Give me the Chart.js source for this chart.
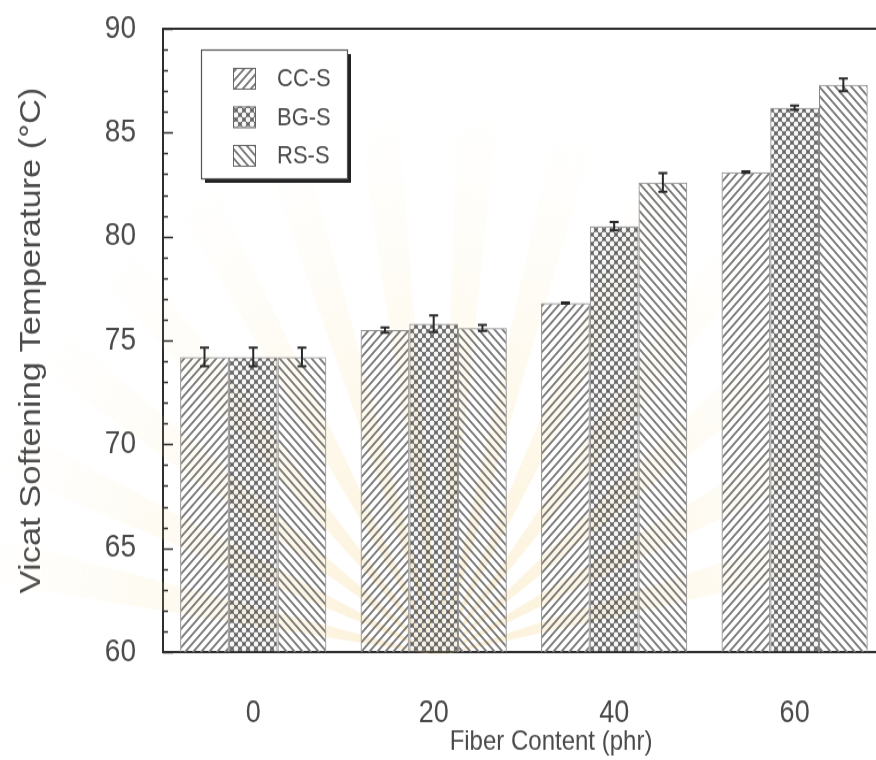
<!DOCTYPE html>
<html>
<head>
<meta charset="utf-8">
<script src="https://cdn.jsdelivr.net/npm/chart.js@4/dist/chart.umd.min.js"></script>
<style>
  html, body { margin: 0; padding: 0; background: #fff; overflow: hidden; width: 876px; height: 760px; }
  /* the figure is drawn slightly compressed and stretched back to full height */
  #stretch { width: 950px; height: 661px; transform: scaleY(1.15); transform-origin: 0 0; }
  #c { display: block; }
</style>
</head>
<body>
<div id="stretch"><canvas id="c" width="950" height="661"></canvas></div>
<script>
// Fiber loading levels (phr)
const fiberLevels = [0, 20, 40, 60];
const seriesNames = ['CC-S', 'BG-S', 'RS-S'];

// Vicat softening temperature (°C)
const ccsValues = [74.2, 75.5, 76.8, 83.1];
const bgsValues = [74.2, 75.8, 80.5, 86.2];
const rssValues = [74.2, 75.6, 82.6, 87.3];

// Standard deviations
const ccsErrors = [0.45, 0.12, 0.03, 0.03];
const bgsErrors = [0.45, 0.40, 0.20, 0.10];
const rssErrors = [0.45, 0.15, 0.45, 0.30];

// Axis ranges
const xMin = -10, xMax = 76;
const yMin = 60, yMax = 90, yStep = 5;

const FONT = '"Liberation Sans", Arial, Helvetica, sans-serif';
const TEXT = '#4a4a4a';
const AXIS = '#2e2e2e';

// Monochrome fill patterns (transparent background)
function makePattern(kind) {
  const s = 8;
  const tile = document.createElement('canvas');
  tile.width = tile.height = s;
  const g = tile.getContext('2d');
  if (kind === 'dots') {
    g.fillStyle = 'rgba(88,88,88,0.95)';
    g.fillRect(0, 0, s, s);
    g.globalCompositeOperation = 'destination-out';
    [[0, 0], [s, 0], [0, s], [s, s], [s / 2, s / 2]].forEach(([x, y]) => {
      g.beginPath(); g.arc(x, y, 2.4, 0, Math.PI * 2); g.fill();
    });
  } else {
    g.strokeStyle = '#767676';
    g.lineWidth = 1.8;
    g.beginPath();
    if (kind === 'fwd') {
      g.moveTo(-2, s + 2); g.lineTo(s + 2, -2);
      g.moveTo(-2, 2); g.lineTo(2, -2);
      g.moveTo(s - 2, s + 2); g.lineTo(s + 2, s - 2);
    } else {
      g.moveTo(-2, -2); g.lineTo(s + 2, s + 2);
      g.moveTo(-2, s - 2); g.lineTo(2, s + 2);
      g.moveTo(s - 2, -2); g.lineTo(s + 2, 2);
    }
    g.stroke();
  }
  return g.createPattern(tile, 'repeat');
}

const fills = [makePattern('fwd'), makePattern('dots'), makePattern('back')];
const values = [ccsValues, bgsValues, rssValues];
const errors = [ccsErrors, bgsErrors, rssErrors];

const datasets = seriesNames.map((name, i) => ({
  label: name,
  data: values[i].map((v, j) => ({ x: fiberLevels[j], y: v })),
  errors: errors[i],
  backgroundColor: fills[i],
  borderColor: '#8a8a8a',
  borderWidth: 1,
  borderSkipped: false,
  categoryPercentage: 0.81,
  barPercentage: 1.0
}));

// Faint sunburst emblem behind the plot
const backdrop = {
  id: 'backdrop',
  beforeDatasetsDraw(chart) {
    const { ctx } = chart;
    const cx = 440, cy = 570, r = 480;
    ctx.save();
    const grad = ctx.createRadialGradient(cx, cy, 20, cx, cy, r);
    grad.addColorStop(0, 'rgba(246,206,120,0.30)');
    grad.addColorStop(0.5, 'rgba(250,222,150,0.16)');
    grad.addColorStop(1, 'rgba(252,236,190,0)');
    ctx.fillStyle = grad;
    for (let a = -172; a <= -8; a += 12) {
      const a0 = a * Math.PI / 180, a1 = (a + 5) * Math.PI / 180;
      ctx.beginPath();
      ctx.moveTo(cx, cy);
      ctx.lineTo(cx + r * Math.cos(a0), cy + r * Math.sin(a0));
      ctx.lineTo(cx + r * Math.cos(a1), cy + r * Math.sin(a1));
      ctx.closePath();
      ctx.fill();
    }
    ctx.restore();
  }
};

// Error bars with caps
const errorBars = {
  id: 'errorBars',
  afterDatasetsDraw(chart) {
    const { ctx, scales: { y } } = chart;
    ctx.save();
    ctx.strokeStyle = '#2a2a2a';
    ctx.lineWidth = 2;
    chart.data.datasets.forEach((ds, i) => {
      chart.getDatasetMeta(i).data.forEach((bar, j) => {
        const v = ds.data[j].y, e = ds.errors[j];
        const top = y.getPixelForValue(v + e);
        const bot = y.getPixelForValue(v - e);
        const x = bar.x;
        ctx.beginPath();
        ctx.moveTo(x, top); ctx.lineTo(x, bot);
        ctx.moveTo(x - 4.5, top); ctx.lineTo(x + 4.5, top);
        ctx.moveTo(x - 4.5, bot); ctx.lineTo(x + 4.5, bot);
        ctx.stroke();
      });
    });
    ctx.restore();
  }
};

// Inward major/minor ticks on the value axis and the top frame line
const frame = {
  id: 'frame',
  afterDraw(chart) {
    const { ctx, chartArea: a, scales: { y } } = chart;
    ctx.save();
    ctx.strokeStyle = AXIS;
    ctx.lineWidth = 1.5;
    ctx.beginPath();
    for (let v = yMin; v <= yMax; v++) {
      const py = Math.round(y.getPixelForValue(v)) + 0.5;
      const len = v % yStep === 0 ? 10 : 5;
      ctx.moveTo(a.left, py); ctx.lineTo(a.left + len, py);
    }
    ctx.stroke();
    ctx.lineWidth = 2;
    ctx.beginPath();
    ctx.moveTo(a.left, a.top); ctx.lineTo(a.right, a.top);
    ctx.stroke();
    ctx.restore();
  }
};

// Boxed legend with drop shadow
const boxLegend = {
  id: 'boxLegend',
  afterDraw(chart) {
    const { ctx } = chart;
    const bx = 201, by = 43, bw = 146, bh = 112;
    ctx.save();
    ctx.fillStyle = '#222';
    ctx.fillRect(bx + 4, by + 4, bw, bh);
    ctx.fillStyle = '#fff';
    ctx.fillRect(bx, by, bw, bh);
    ctx.strokeStyle = '#555';
    ctx.lineWidth = 1.2;
    ctx.strokeRect(bx + 0.5, by + 0.5, bw, bh);
    ctx.font = '22px ' + FONT;
    ctx.textBaseline = 'middle';
    chart.data.datasets.forEach((ds, i) => {
      const cy = by + 25 + i * 33.5;
      ctx.fillStyle = ds.backgroundColor;
      ctx.fillRect(233, cy - 9, 22, 18);
      ctx.strokeStyle = '#666';
      ctx.lineWidth = 1;
      ctx.strokeRect(233.5, cy - 8.5, 22, 18);
      ctx.fillStyle = TEXT;
      ctx.fillText(ds.label, 277, cy + 1);
    });
    ctx.restore();
  }
};

new Chart(document.getElementById('c'), {
  type: 'bar',
  data: { datasets },
  plugins: [backdrop, errorBars, frame, boxLegend],
  options: {
    responsive: false,
    animation: false,
    layout: { padding: { left: 0, top: 25, right: 11, bottom: 0 } },
    plugins: { legend: { display: false }, tooltip: { enabled: false } },
    scales: {
      x: {
        type: 'linear',
        min: xMin, max: xMax,
        offset: false,
        grid: { display: false, drawTicks: false },
        border: { display: true, color: AXIS, width: 2 },
        ticks: { font: { family: FONT, size: 27 }, color: TEXT, padding: 37 },
        afterBuildTicks(s) { s.ticks = fiberLevels.map(v => ({ value: v })); },
        title: { display: true, text: 'Fiber Content (phr)', font: { family: FONT, size: 24 }, color: TEXT, padding: { top: 0, bottom: 1 } },
        afterFit(s) { s.height = 94; s.paddingLeft = 0; s.paddingRight = 0; }
      },
      y: {
        min: yMin, max: yMax,
        grid: { display: false, drawTicks: false },
        border: { display: true, color: AXIS, width: 2 },
        ticks: { stepSize: yStep, font: { family: FONT, size: 28 }, color: TEXT, padding: 27 },
        title: { display: true, text: 'Vicat Softening Temperature (°C)', font: { family: FONT, size: 30 }, color: TEXT, padding: { top: 14, bottom: 0 } },
        afterFit(s) { s.width = 163; s.paddingTop = 0; s.paddingBottom = 0; }
      }
    }
  }
});
</script>
</body>
</html>
